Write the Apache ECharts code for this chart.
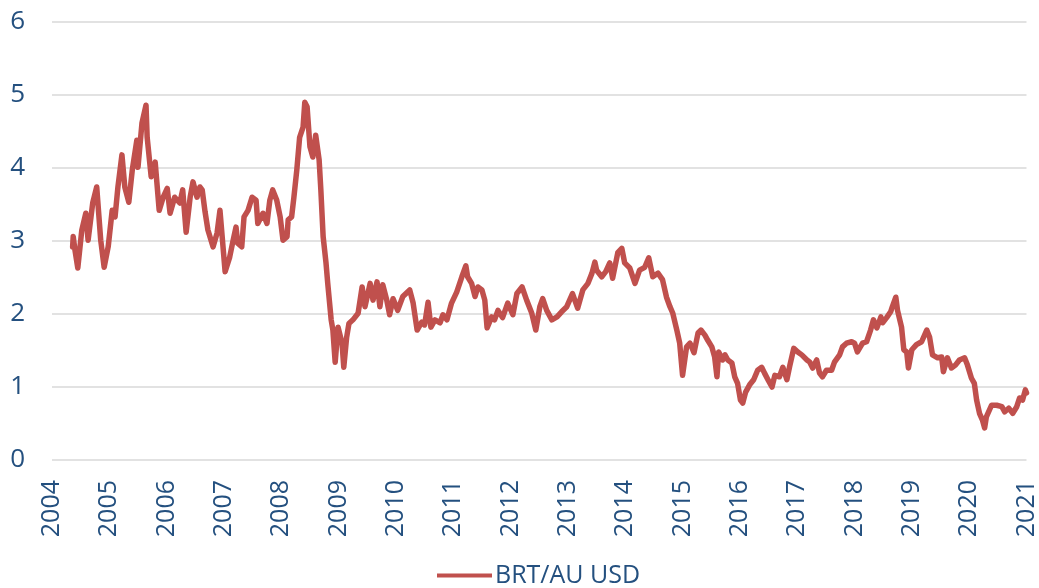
<!DOCTYPE html>
<html>
<head>
<meta charset="utf-8">
<script src="https://cdn.jsdelivr.net/npm/echarts@6/dist/echarts.min.js"></script>
<style>html,body{margin:0;padding:0;background:#fff}#c{width:1039px;height:588px}</style>
</head>
<body>
<div id="c"></div>
<script>
const seriesName = 'BRT/AU USD';
const yTicks = [0, 1, 2, 3, 4, 5, 6];
const xTicks = [2004, 2005, 2006, 2007, 2008, 2009, 2010, 2011, 2012, 2013, 2014, 2015, 2016, 2017, 2018, 2019, 2020, 2021];
const years = [
  2004.36, 2004.37, 2004.40, 2004.45, 2004.52, 2004.59, 2004.63, 2004.71, 2004.78, 2004.85, 2004.91, 2004.98,
  2005.05, 2005.10, 2005.15, 2005.22, 2005.27, 2005.34, 2005.40, 2005.48, 2005.50, 2005.57, 2005.64, 2005.66,
  2005.73, 2005.80, 2005.87, 2005.94, 2006.01, 2006.06, 2006.14, 2006.23, 2006.28, 2006.34, 2006.41, 2006.46,
  2006.53, 2006.58, 2006.62, 2006.67, 2006.72, 2006.81, 2006.88, 2006.93, 2007.02, 2007.10, 2007.16, 2007.21,
  2007.24, 2007.31, 2007.35, 2007.42, 2007.49, 2007.56, 2007.59, 2007.68, 2007.75, 2007.80, 2007.85, 2007.92,
  2007.98, 2008.03, 2008.10, 2008.12, 2008.18, 2008.22, 2008.27, 2008.32, 2008.38, 2008.41, 2008.45, 2008.50,
  2008.55, 2008.60, 2008.66, 2008.69, 2008.73, 2008.78, 2008.81, 2008.87, 2008.90, 2008.94, 2008.99, 2009.06,
  2009.09, 2009.14, 2009.18, 2009.25, 2009.34, 2009.41, 2009.46, 2009.55, 2009.60, 2009.67, 2009.72, 2009.77,
  2009.84, 2009.89, 2009.95, 2010.03, 2010.12, 2010.24, 2010.30, 2010.37, 2010.45, 2010.50, 2010.56, 2010.61,
  2010.68, 2010.77, 2010.82, 2010.89, 2010.97, 2011.06, 2011.15, 2011.22, 2011.25, 2011.32, 2011.38, 2011.43,
  2011.50, 2011.55, 2011.59, 2011.67, 2011.72, 2011.78, 2011.86, 2011.95, 2012.04, 2012.11, 2012.20, 2012.28,
  2012.37, 2012.44, 2012.51, 2012.56, 2012.63, 2012.72, 2012.81, 2012.89, 2012.98, 2013.08, 2013.17, 2013.26,
  2013.35, 2013.42, 2013.47, 2013.50, 2013.59, 2013.66, 2013.73, 2013.78, 2013.87, 2013.94, 2013.99, 2014.08,
  2014.17, 2014.25, 2014.34, 2014.41, 2014.48, 2014.57, 2014.65, 2014.72, 2014.78, 2014.83, 2014.90, 2014.95,
  2015.00, 2015.07, 2015.13, 2015.20, 2015.27, 2015.32, 2015.39, 2015.44, 2015.51, 2015.56, 2015.60, 2015.63,
  2015.70, 2015.74, 2015.79, 2015.86, 2015.91, 2015.96, 2016.01, 2016.05, 2016.10, 2016.17, 2016.24, 2016.31,
  2016.38, 2016.43, 2016.49, 2016.56, 2016.61, 2016.69, 2016.75, 2016.82, 2016.87, 2016.94, 2017.01, 2017.08,
  2017.17, 2017.22, 2017.27, 2017.34, 2017.39, 2017.44, 2017.51, 2017.60, 2017.65, 2017.74, 2017.79, 2017.86,
  2017.95, 2018.00, 2018.05, 2018.14, 2018.21, 2018.28, 2018.33, 2018.39, 2018.46, 2018.49, 2018.56, 2018.63,
  2018.66, 2018.72, 2018.75, 2018.82, 2018.86, 2018.91, 2018.94, 2019.00, 2019.08, 2019.17, 2019.26, 2019.31,
  2019.36, 2019.45, 2019.52, 2019.55, 2019.62, 2019.69, 2019.76, 2019.83, 2019.92, 2019.97, 2020.04, 2020.09,
  2020.13, 2020.18, 2020.23, 2020.27, 2020.30, 2020.39, 2020.48, 2020.57, 2020.62, 2020.69, 2020.76, 2020.83,
  2020.88, 2020.93, 2020.98, 2021.00
];
const values = [
  2.92, 3.06, 2.88, 2.63, 3.15, 3.38, 3.01, 3.52, 3.74, 3.01, 2.64, 2.92,
  3.42, 3.33, 3.74, 4.18, 3.74, 3.53, 3.97, 4.38, 4.01, 4.62, 4.86, 4.42,
  3.88, 4.08, 3.42, 3.60, 3.72, 3.38, 3.60, 3.52, 3.70, 3.12, 3.60, 3.81,
  3.60, 3.74, 3.70, 3.40, 3.15, 2.92, 3.11, 3.42, 2.58, 2.78, 3.01, 3.19,
  2.97, 2.92, 3.33, 3.42, 3.60, 3.56, 3.24, 3.38, 3.24, 3.56, 3.70, 3.56,
  3.33, 3.01, 3.06, 3.29, 3.33, 3.60, 3.97, 4.42, 4.56, 4.90, 4.84, 4.29,
  4.15, 4.45, 4.11, 3.70, 3.06, 2.70, 2.42, 1.92, 1.78, 1.34, 1.82, 1.60,
  1.27, 1.68, 1.87, 1.92, 2.01, 2.37, 2.10, 2.42, 2.19, 2.44, 2.10, 2.40,
  2.19, 1.99, 2.21, 2.05, 2.24, 2.33, 2.15, 1.78, 1.89, 1.85, 2.16, 1.82,
  1.92, 1.88, 1.99, 1.92, 2.15, 2.30, 2.51, 2.66, 2.51, 2.42, 2.24, 2.37,
  2.33, 2.19, 1.81, 1.96, 1.92, 2.05, 1.95, 2.15, 1.99, 2.28, 2.37, 2.19,
  2.01, 1.78, 2.10, 2.21, 2.05, 1.92, 1.96, 2.03, 2.10, 2.28, 2.08, 2.33,
  2.42, 2.56, 2.71, 2.60, 2.51, 2.58, 2.70, 2.49, 2.84, 2.90, 2.70, 2.63,
  2.42, 2.60, 2.64, 2.77, 2.51, 2.56, 2.47, 2.23, 2.10, 2.01, 1.78, 1.60,
  1.16, 1.55, 1.60, 1.47, 1.74, 1.78, 1.71, 1.64, 1.55, 1.41, 1.14, 1.48,
  1.37, 1.44, 1.37, 1.33, 1.14, 1.05, 0.82, 0.78, 0.93, 1.03, 1.10, 1.23,
  1.27, 1.19, 1.10, 1.00, 1.16, 1.14, 1.27, 1.10, 1.29, 1.53, 1.48, 1.44,
  1.37, 1.34, 1.26, 1.37, 1.19, 1.14, 1.23, 1.23, 1.34, 1.44, 1.55, 1.60,
  1.62, 1.60, 1.48, 1.60, 1.62, 1.78, 1.92, 1.81, 1.96, 1.88, 1.95, 2.03,
  2.10, 2.23, 2.05, 1.82, 1.51, 1.48, 1.26, 1.51, 1.58, 1.62, 1.78, 1.68,
  1.44, 1.40, 1.41, 1.21, 1.40, 1.26, 1.30, 1.37, 1.40, 1.30, 1.12, 1.05,
  0.82, 0.64, 0.55, 0.44, 0.59, 0.75, 0.75, 0.73, 0.66, 0.71, 0.64, 0.73,
  0.85, 0.82, 0.96, 0.92
];

const textColor = '#24507f';
const lineColor = '#c0504d';
const fontFamily = '"Open Sans", "Liberation Sans", sans-serif';

const chart = echarts.init(document.getElementById('c'), null, { renderer: 'canvas' });
chart.setOption({
  animation: false,
  backgroundColor: '#ffffff',
  grid: { left: 52, right: 12, top: 22, bottom: 128, containLabel: false },
  legend: {
    data: [{ name: seriesName, icon: 'rect' }],
    left: 432, top: 558,
    itemWidth: 55, itemHeight: 4, itemGap: 6,
    textStyle: { color: textColor, fontSize: 25, fontFamily: fontFamily, padding: [0, 0, 0, -2] }
  },
  xAxis: {
    type: 'value',
    min: xTicks[0], max: xTicks[xTicks.length - 1], interval: 1,
    axisLine: { show: false }, axisTick: { show: false }, splitLine: { show: false },
    axisLabel: {
      rotate: 90, margin: 20, color: textColor, fontSize: 25, fontFamily: fontFamily,
      formatter: v => String(v)
    }
  },
  yAxis: {
    type: 'value', min: yTicks[0], max: yTicks[yTicks.length - 1], interval: 1,
    axisLine: { show: false }, axisTick: { show: false },
    splitLine: { lineStyle: { color: '#d9d9d9', width: 1.5 } },
    axisLabel: { margin: 27, color: textColor, fontSize: 26, fontFamily: fontFamily }
  },
  series: [{
    name: seriesName,
    type: 'line',
    data: years.map((y, i) => [y, values[i]]),
    showSymbol: false,
    symbol: 'none',
    itemStyle: { color: lineColor },
    lineStyle: { color: lineColor, width: 5.5, join: 'round', cap: 'round' }
  }]
});
</script>
</body>
</html>
